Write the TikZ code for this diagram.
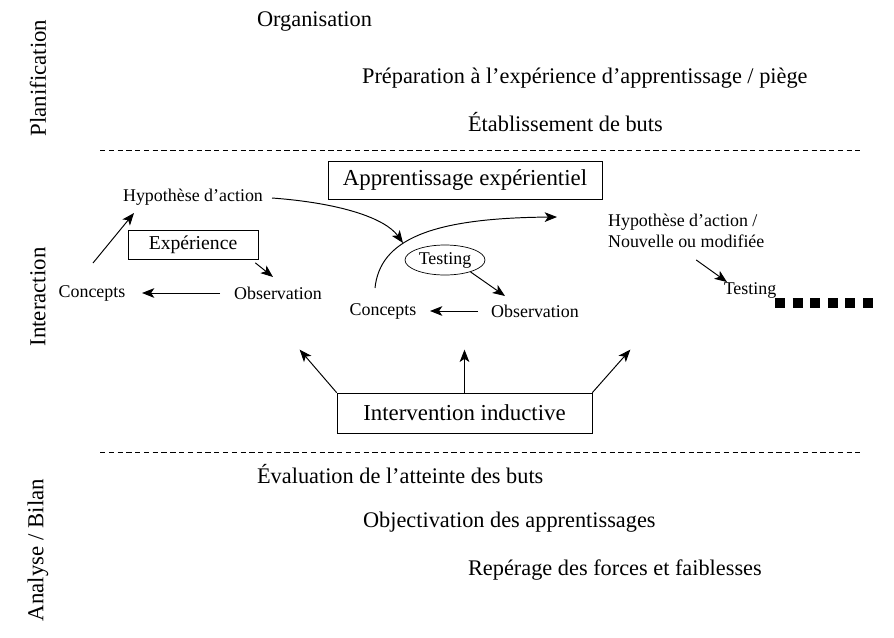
\documentclass[tikz,border=0pt]{standalone}
\usepackage{fontspec}
\setmainfont{Liberation Serif}
\usepackage{tikz}
\usetikzlibrary{shapes.geometric, arrows.meta}

\begin{document}
\begin{tikzpicture}[x=0.02cm, y=-0.02cm]
	\tikzstyle{phase} = [rotate=90, inner sep=1pt, font=\fontsize{13}{14}\selectfont]
	\tikzstyle{stage} = [inner sep=1pt, font=\fontsize{12.7}{14}\selectfont]
	\tikzstyle{small} = [inner sep=1pt, font=\fontsize{10.2}{12}\selectfont]
	\tikzstyle{bigbox} = [rectangle, draw=black, inner sep=0pt, text centered, 
	font=\fontsize{13}{15}\selectfont]
	\tikzstyle{oval} = [ellipse, draw=black, inner sep=0pt, minimum width=1.6cm, 
	minimum height=0.6cm, font=\fontsize{10.2}{12}\selectfont]
	\tikzstyle{arrow} = [-{Stealth[length=7pt, width=5.5pt, inset=1.8pt]}, line width=0.55pt]
	\tikzstyle{separator} = [dash pattern=on 3pt off 2pt, line width=0.5pt]
	\useasboundingbox (0,0) rectangle (894,637);
	% phases
	\node (planif) [phase] at (38,78) {Planification};
	\node (interac) [phase] at (38,297) {Interaction};
	\node (analyse) [phase] at (38,550) {Analyse / Bilan};
	\node (organis) [stage, anchor=west] at (255,22) {Organisation};
	\node (prepar) [stage, anchor=west] at (360,78) {Préparation à l’expérience d’apprentissage / piège};
	\node (buts) [stage, anchor=west] at (466,122) {Établissement de buts};
	\node (evalu) [stage, anchor=west] at (255,474) {Évaluation de l’atteinte des buts};
	\node (objectiv) [stage, anchor=west] at (361,522) {Objectivation des apprentissages};
	\node (forces) [stage, anchor=west] at (466,570) {Repérage des forces et faiblesses};
	\draw [separator] (100,150) -- (860,150);
	\draw [separator] (100,452) -- (860,452);
	% first cycle
	\node (hypA) [small] at (193,197) {Hypothèse d’action};
	\node (expBox) [bigbox, minimum width=2.6cm, minimum height=0.58cm, 
	font=\fontsize{11.2}{13}\selectfont] at (193,245) {Expérience};
	\node (concA) [small] at (92,293) {Concepts};
	\node (obsA) [small] at (278,293) {Observation};
	% second cycle
	\node (apprBox) [bigbox, minimum width=5.48cm, minimum height=0.76cm] at (465,180) {Apprentissage expérientiel};
	\node (testB) [oval] at (445,260) {Testing};
	\node (concB) [small] at (383,311) {Concepts};
	\node (obsB) [small] at (535,311) {Observation};
	% third cycle
	\node (hypC) [small, align=left, anchor=north west] at (606,212) {Hypothèse d’action /\\Nouvelle ou modifiée};
	\node (testC) [small] at (750,290) {Testing};
	\node (interv) [bigbox, minimum width=5.1cm, minimum height=0.8cm] at (464.5,413) {Intervention inductive};
	% arrows
	\draw [arrow] ([shift={(1,-30)}]concA.center) -- ([shift={(-59,16)}]hypA.center);
	\draw [arrow] ([shift={(-3,3)}]expBox.south east) -- ([shift={(-5,-16)}]obsA.center);
	\draw [arrow] ([shift={(-58,0)}]obsA.center) -- ([shift={(50,0)}]concA.center);
	\draw [arrow] ([shift={(79,1)}]hypA.center) .. controls (340,203) and (385,218) .. ([shift={(-42,-17)}]testB.center);
	\draw [arrow] ([shift={(-8,-23)}]concB.center) .. controls (380,240) and (430,218) .. ([shift={(92,37)}]apprBox.center);
	\draw [arrow] (testB.-25) -- ([shift={(-30,-15)}]obsB.center);
	\draw [arrow] ([shift={(-57,0)}]obsB.center) -- ([shift={(47,0)}]concB.center);
	\draw [arrow] ([shift={(10,29)}]hypC.center) -- ([shift={(-23,-8)}]testC.center);
	\draw [line width=10*0.02cm, dash pattern=on 10*0.02cm off 7.6*0.02cm] 
	([shift={(25,13)}]testC.center) -- ++(98,0);
	\draw [arrow] (interv.north west) -- ++(-37,-43);
	\draw [arrow] (interv.north) -- ++(0,-43);
	\draw [arrow] (interv.north east) -- ++(38,-43);
\end{tikzpicture}
\end{document}
